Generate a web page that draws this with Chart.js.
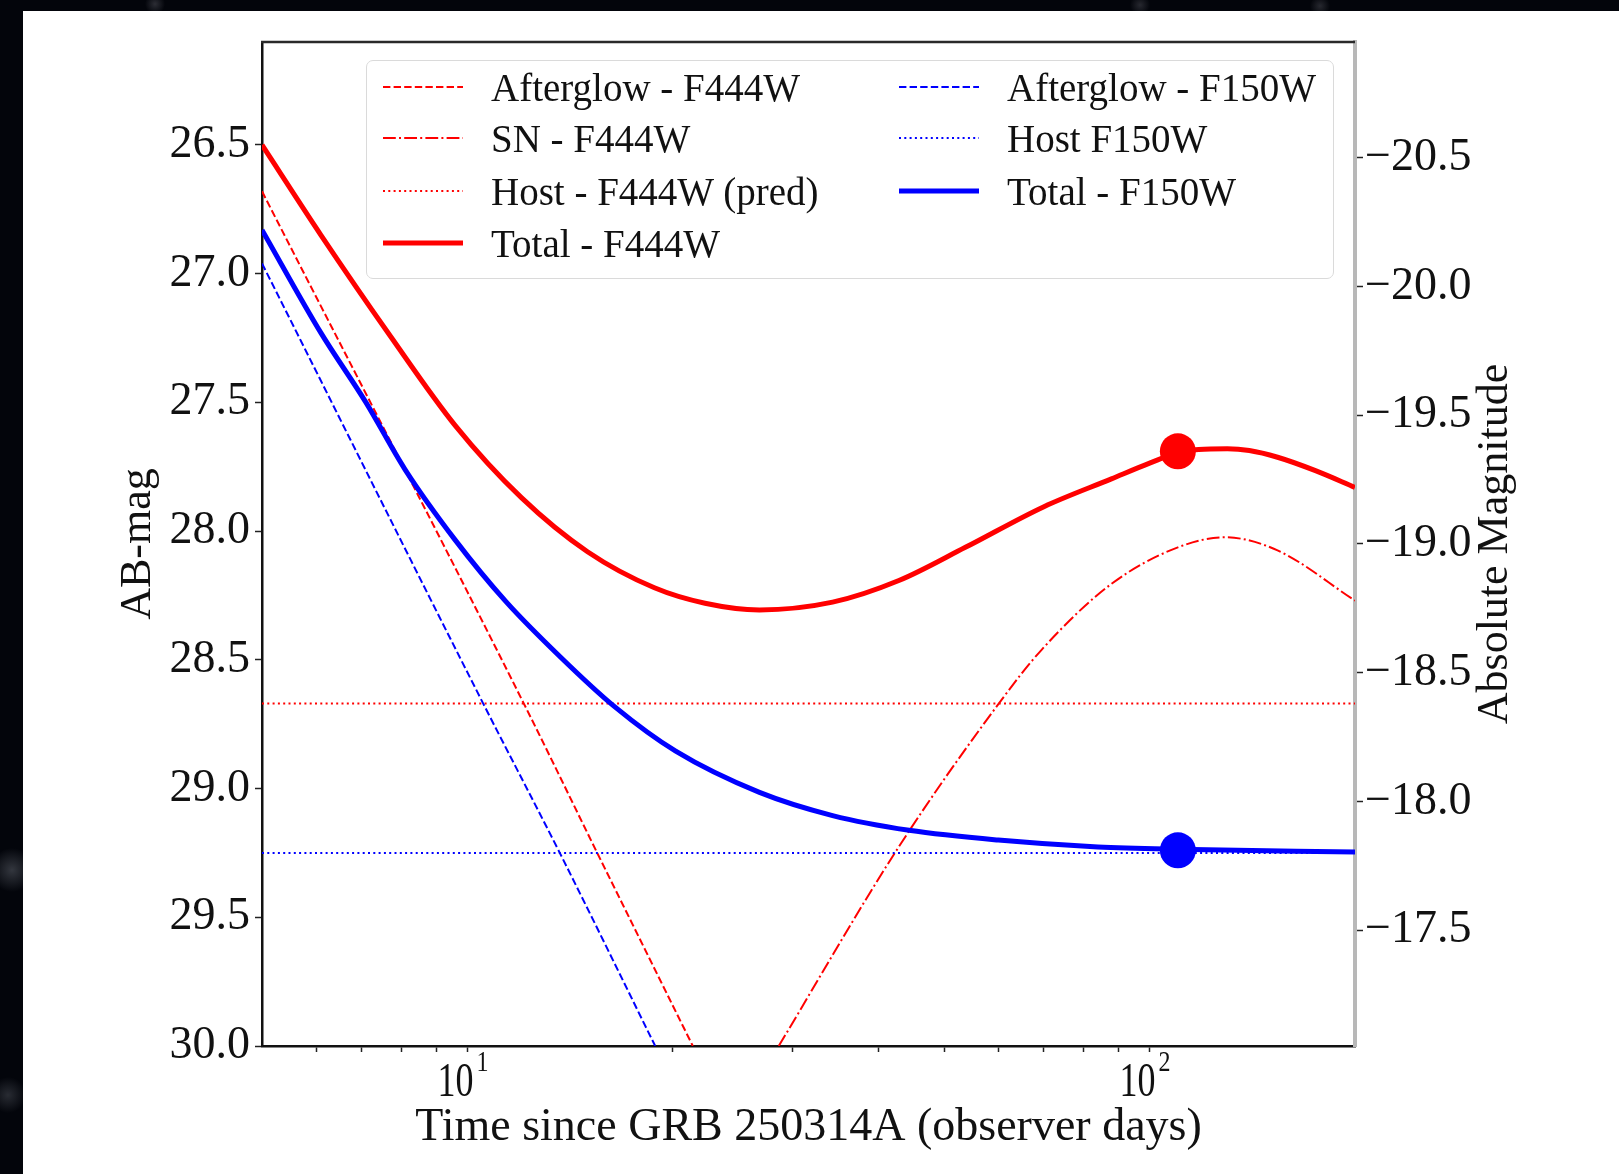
<!DOCTYPE html>
<html>
<head>
<meta charset="utf-8">
<title>GRB 250314A light curve</title>
<script src="https://cdn.jsdelivr.net/npm/chart.js@4.4.0/dist/chart.umd.min.js"></script>
<style>
  html, body { margin: 0; padding: 0; }
  body {
    width: 1619px; height: 1174px; position: relative; overflow: hidden;
    background:
      radial-gradient(circle at 12px 870px, rgba(110,115,125,0.45), transparent 22px),
      radial-gradient(circle at 8px 1095px, rgba(110,115,125,0.35), transparent 18px),
      radial-gradient(circle at 155px 4px, rgba(120,120,130,0.35), transparent 10px),
      radial-gradient(circle at 1140px 5px, rgba(120,120,130,0.3), transparent 10px),
      radial-gradient(circle at 1320px 6px, rgba(120,120,130,0.3), transparent 10px),
      #03050b;
  }
  #sheet { position: absolute; left: 23px; top: 11px; right: 0; bottom: 0; background: #fff; }
  #wrap { position: absolute; left: 0; top: 0; width: 1619px; height: 1174px; }
  #lightcurve { position: absolute; left: 0; top: 0; }
  #legend {
    position: absolute; left: 366px; top: 60px; width: 968px; height: 219px;
    box-sizing: border-box; border: 1.5px solid #dadada; border-radius: 7px;
    background: rgba(255,255,255,0.85);
    font-family: 'Liberation Serif', 'Times New Roman', serif; font-size: 39px; color: #111;
  }
  .item { position: absolute; display: flex; align-items: center; height: 50px; white-space: nowrap; }
  .item svg { width: 80px; height: 12px; margin-right: 28px; flex: none; }
</style>
</head>
<body>
<div id="sheet"></div>
<div id="wrap">
  <canvas id="lightcurve" width="1619" height="1174"></canvas>
  <div id="legend"></div>
</div>
<script>
// afterglow decline (straight in log time)
const afterglowF444Days = [5, 12.1, 15.5, 21.4];
const afterglowF444Mag  = [26.68, 28.67, 29.25, 30.0];
const afterglowF150Days = [5, 10.55, 13.66, 18.85];
const afterglowF150Mag  = [26.96, 28.67, 29.25, 30.0];

// supernova in F444W
const snF444Days = [28.6, 42.8, 60.1, 69.5, 87.9, 110, 129, 154, 200];
const snF444Mag  = [30.0, 29.23, 28.67, 28.46, 28.205, 28.063, 28.024, 28.075, 28.27];

// host galaxy levels
const hostDays    = [5, 200];
const hostF444Mag = [28.67, 28.67];
const hostF150Mag = [29.25, 29.25];

// summed light curves
const totalF444Days = [5, 6.1, 7.7, 9.6, 12, 15, 18.8, 22.3, 26.8, 34.3, 42.9, 53.7, 70, 87.9, 100, 110, 118, 130, 140, 154, 175, 200];
const totalF444Mag  = [26.50, 26.85, 27.24, 27.59, 27.87, 28.08, 28.22, 28.28, 28.306, 28.276, 28.192, 28.063, 27.905, 27.797, 27.736, 27.695, 27.683, 27.68, 27.687, 27.713, 27.765, 27.83];
const totalF150Days = [5, 6.1, 7.1, 8.1, 9.6, 11.4, 13.7, 16.4, 20.2, 26.8, 34.3, 44.4, 60, 84, 110, 200];
const totalF150Mag  = [26.83, 27.23, 27.50, 27.76, 28.035, 28.275, 28.49, 28.68, 28.855, 29.015, 29.105, 29.162, 29.20, 29.227, 29.236, 29.246];

// JWST epoch
const obsDays    = [110];
const obsF444Mag = [27.69];
const obsF150Mag = [29.24];

// AB-mag -> absolute magnitude offset
const distMod = 47.05;

const xTickDays  = [6, 7, 8, 9, 10, 20, 30, 40, 50, 60, 70, 80, 90, 100];
const xLabelDays = [10, 100];
const xLabelExp  = ['1', '2'];
const magTicks   = [26.5, 27.0, 27.5, 28.0, 28.5, 29.0, 29.5, 30.0];
const absTicks   = [-20.5, -20.0, -19.5, -19.0, -18.5, -18.0, -17.5];

const pts = (xs, ys) => xs.map((x, i) => ({ x: x, y: ys[i] }));

const RED = 'rgb(255, 0, 0)';
const BLUE = 'rgb(0, 0, 255)';
const DASH = [7.4, 3.2];
const DASHDOT = [12.8, 3.2, 2, 3.2];
const DOT = [2, 3.3];
const SERIF = "'Liberation Serif', 'Times New Roman', serif";

Chart.defaults.font.family = SERIF;
Chart.defaults.color = '#111';

const datasets = [
  { label: 'Afterglow - F444W', data: pts(afterglowF444Days, afterglowF444Mag), borderColor: RED, borderWidth: 2, borderDash: DASH, order: 10 },
  { label: 'SN - F444W', data: pts(snF444Days, snF444Mag), borderColor: RED, borderWidth: 2, borderDash: DASHDOT, order: 9 },
  { label: 'Host - F444W (pred)', data: pts(hostDays, hostF444Mag), borderColor: RED, borderWidth: 2, borderDash: DOT, order: 8 },
  { label: 'Total - F444W', data: pts(totalF444Days, totalF444Mag), borderColor: RED, borderWidth: 5, order: 7 },
  { label: 'Afterglow - F150W', data: pts(afterglowF150Days, afterglowF150Mag), borderColor: BLUE, borderWidth: 2, borderDash: DASH, order: 6 },
  { label: 'Host F150W', data: pts(hostDays, hostF150Mag), borderColor: BLUE, borderWidth: 2, borderDash: DOT, order: 5 },
  { label: 'Total - F150W', data: pts(totalF150Days, totalF150Mag), borderColor: BLUE, borderWidth: 5, order: 4 },
  { label: 'obs F444W', data: pts(obsDays, obsF444Mag), showLine: false, pointRadius: 18, pointBackgroundColor: RED, pointBorderWidth: 0, order: 1 },
  { label: 'obs F150W', data: pts(obsDays, obsF150Mag), showLine: false, pointRadius: 18, pointBackgroundColor: BLUE, pointBorderWidth: 0, order: 0 }
];
datasets.forEach(d => {
  d.fill = false;
  d.cubicInterpolationMode = 'monotone';
  if (d.showLine !== false) d.pointRadius = 0;
});

// top spine, 10^n labels under the log axis, right-hand title (bottom to top)
const frameAndLabels = {
  id: 'frameAndLabels',
  afterDraw(chart) {
    const { ctx, chartArea } = chart;
    const xs = chart.scales.x;
    const y2 = chart.scales.y2;
    ctx.save();
    ctx.strokeStyle = '#2a2a2a';
    ctx.lineWidth = 2.5;
    ctx.beginPath();
    ctx.moveTo(chartArea.left - 1, chartArea.top);
    ctx.lineTo(chartArea.right, chartArea.top);
    ctx.stroke();

    ctx.fillStyle = '#111';
    ctx.textAlign = 'center';
    ctx.textBaseline = 'alphabetic';
    xLabelDays.forEach((d, i) => {
      const px = xs.getPixelForValue(d);
      const base = xs.top + 50;
      ctx.save();
      ctx.translate(px - 12, base);
      ctx.scale(0.75, 1);
      ctx.font = '48px ' + SERIF;
      ctx.fillText('10', 0, 0);
      ctx.restore();
      ctx.save();
      ctx.translate(px + 15, base - 25);
      ctx.scale(0.8, 1);
      ctx.font = '30px ' + SERIF;
      ctx.fillText(xLabelExp[i], 0, 0);
      ctx.restore();
    });

    ctx.translate(y2.right - 124, (chartArea.top + chartArea.bottom) / 2);
    ctx.rotate(-Math.PI / 2);
    ctx.font = '44px ' + SERIF;
    ctx.textBaseline = 'middle';
    ctx.fillText('Absolute Magnitude', 0, 0);
    ctx.restore();
  }
};

const chart = new Chart(document.getElementById('lightcurve'), {
  type: 'line',
  data: { datasets: datasets },
  options: {
    responsive: false,
    animation: false,
    devicePixelRatio: 1,
    events: [],
    layout: { padding: { top: 42, left: 0, right: 0, bottom: 0 } },
    plugins: { legend: { display: false }, tooltip: { enabled: false } },
    elements: { line: { borderCapStyle: 'butt', tension: 0.4 } },
    scales: {
      x: {
        type: 'logarithmic',
        position: 'bottom',
        min: 5,
        max: 200,
        afterBuildTicks: s => { s.ticks = xTickDays.map(v => ({ value: v })); },
        afterFit: s => { s.height = 128; },
        ticks: { autoSkip: false, maxRotation: 0, callback: () => '' },
        grid: { drawOnChartArea: false, tickLength: 6, tickColor: '#222', tickWidth: 1.5 },
        border: { color: '#111', width: 2.5 },
        title: { display: true, text: 'Time since GRB 250314A (observer days)', color: '#111', font: { size: 46 }, padding: { top: 0, bottom: 18 } }
      },
      y: {
        type: 'linear',
        position: 'left',
        reverse: true,
        min: 26.1,
        max: 30.0,
        afterBuildTicks: s => { s.ticks = magTicks.map(v => ({ value: v })); },
        afterFit: s => { s.width = 262; },
        ticks: { padding: 5, color: '#111', font: { size: 46 }, callback: v => v.toFixed(1) },
        grid: { drawOnChartArea: false, tickLength: 7, tickColor: '#222', tickWidth: 1.5 },
        border: { color: '#111', width: 2.5 },
        title: { display: true, text: 'AB-mag', color: '#111', font: { size: 44 }, padding: { top: 112, bottom: 0 } }
      },
      y2: {
        type: 'linear',
        position: 'right',
        reverse: true,
        min: 26.1 - distMod,
        max: 30.0 - distMod,
        afterBuildTicks: s => { s.ticks = absTicks.map(v => ({ value: v })); },
        afterFit: s => { s.width = 264; },
        ticks: { padding: 2, color: '#111', font: { size: 46 }, callback: v => '\u2212' + Math.abs(v).toFixed(1) },
        grid: { drawOnChartArea: false, tickLength: 8, tickColor: '#222', tickWidth: 1.5 },
        border: { color: '#b8b8b8', width: 4 }
      }
    }
  },
  plugins: [frameAndLabels]
});

// two-column legend inside the plot, built from the line datasets
const legendEl = document.getElementById('legend');
const colX = [16, 532];
const rowY = [1, 52, 105, 157];
chart.data.datasets.filter(d => d.showLine !== false).forEach((d, i) => {
  const col = i < 4 ? 0 : 1;
  const row = i < 4 ? i : i - 4;
  const item = document.createElement('div');
  item.className = 'item';
  item.style.left = colX[col] + 'px';
  item.style.top = rowY[row] + 'px';
  const dash = d.borderDash ? d.borderDash.join(' ') : 'none';
  item.innerHTML =
    '<svg viewBox="0 0 80 12"><line x1="0" y1="6" x2="80" y2="6" stroke="' + d.borderColor +
    '" stroke-width="' + d.borderWidth + '" stroke-dasharray="' + dash + '"/></svg>';
  const span = document.createElement('span');
  span.textContent = d.label;
  item.appendChild(span);
  legendEl.appendChild(item);
});
</script>
</body>
</html>
